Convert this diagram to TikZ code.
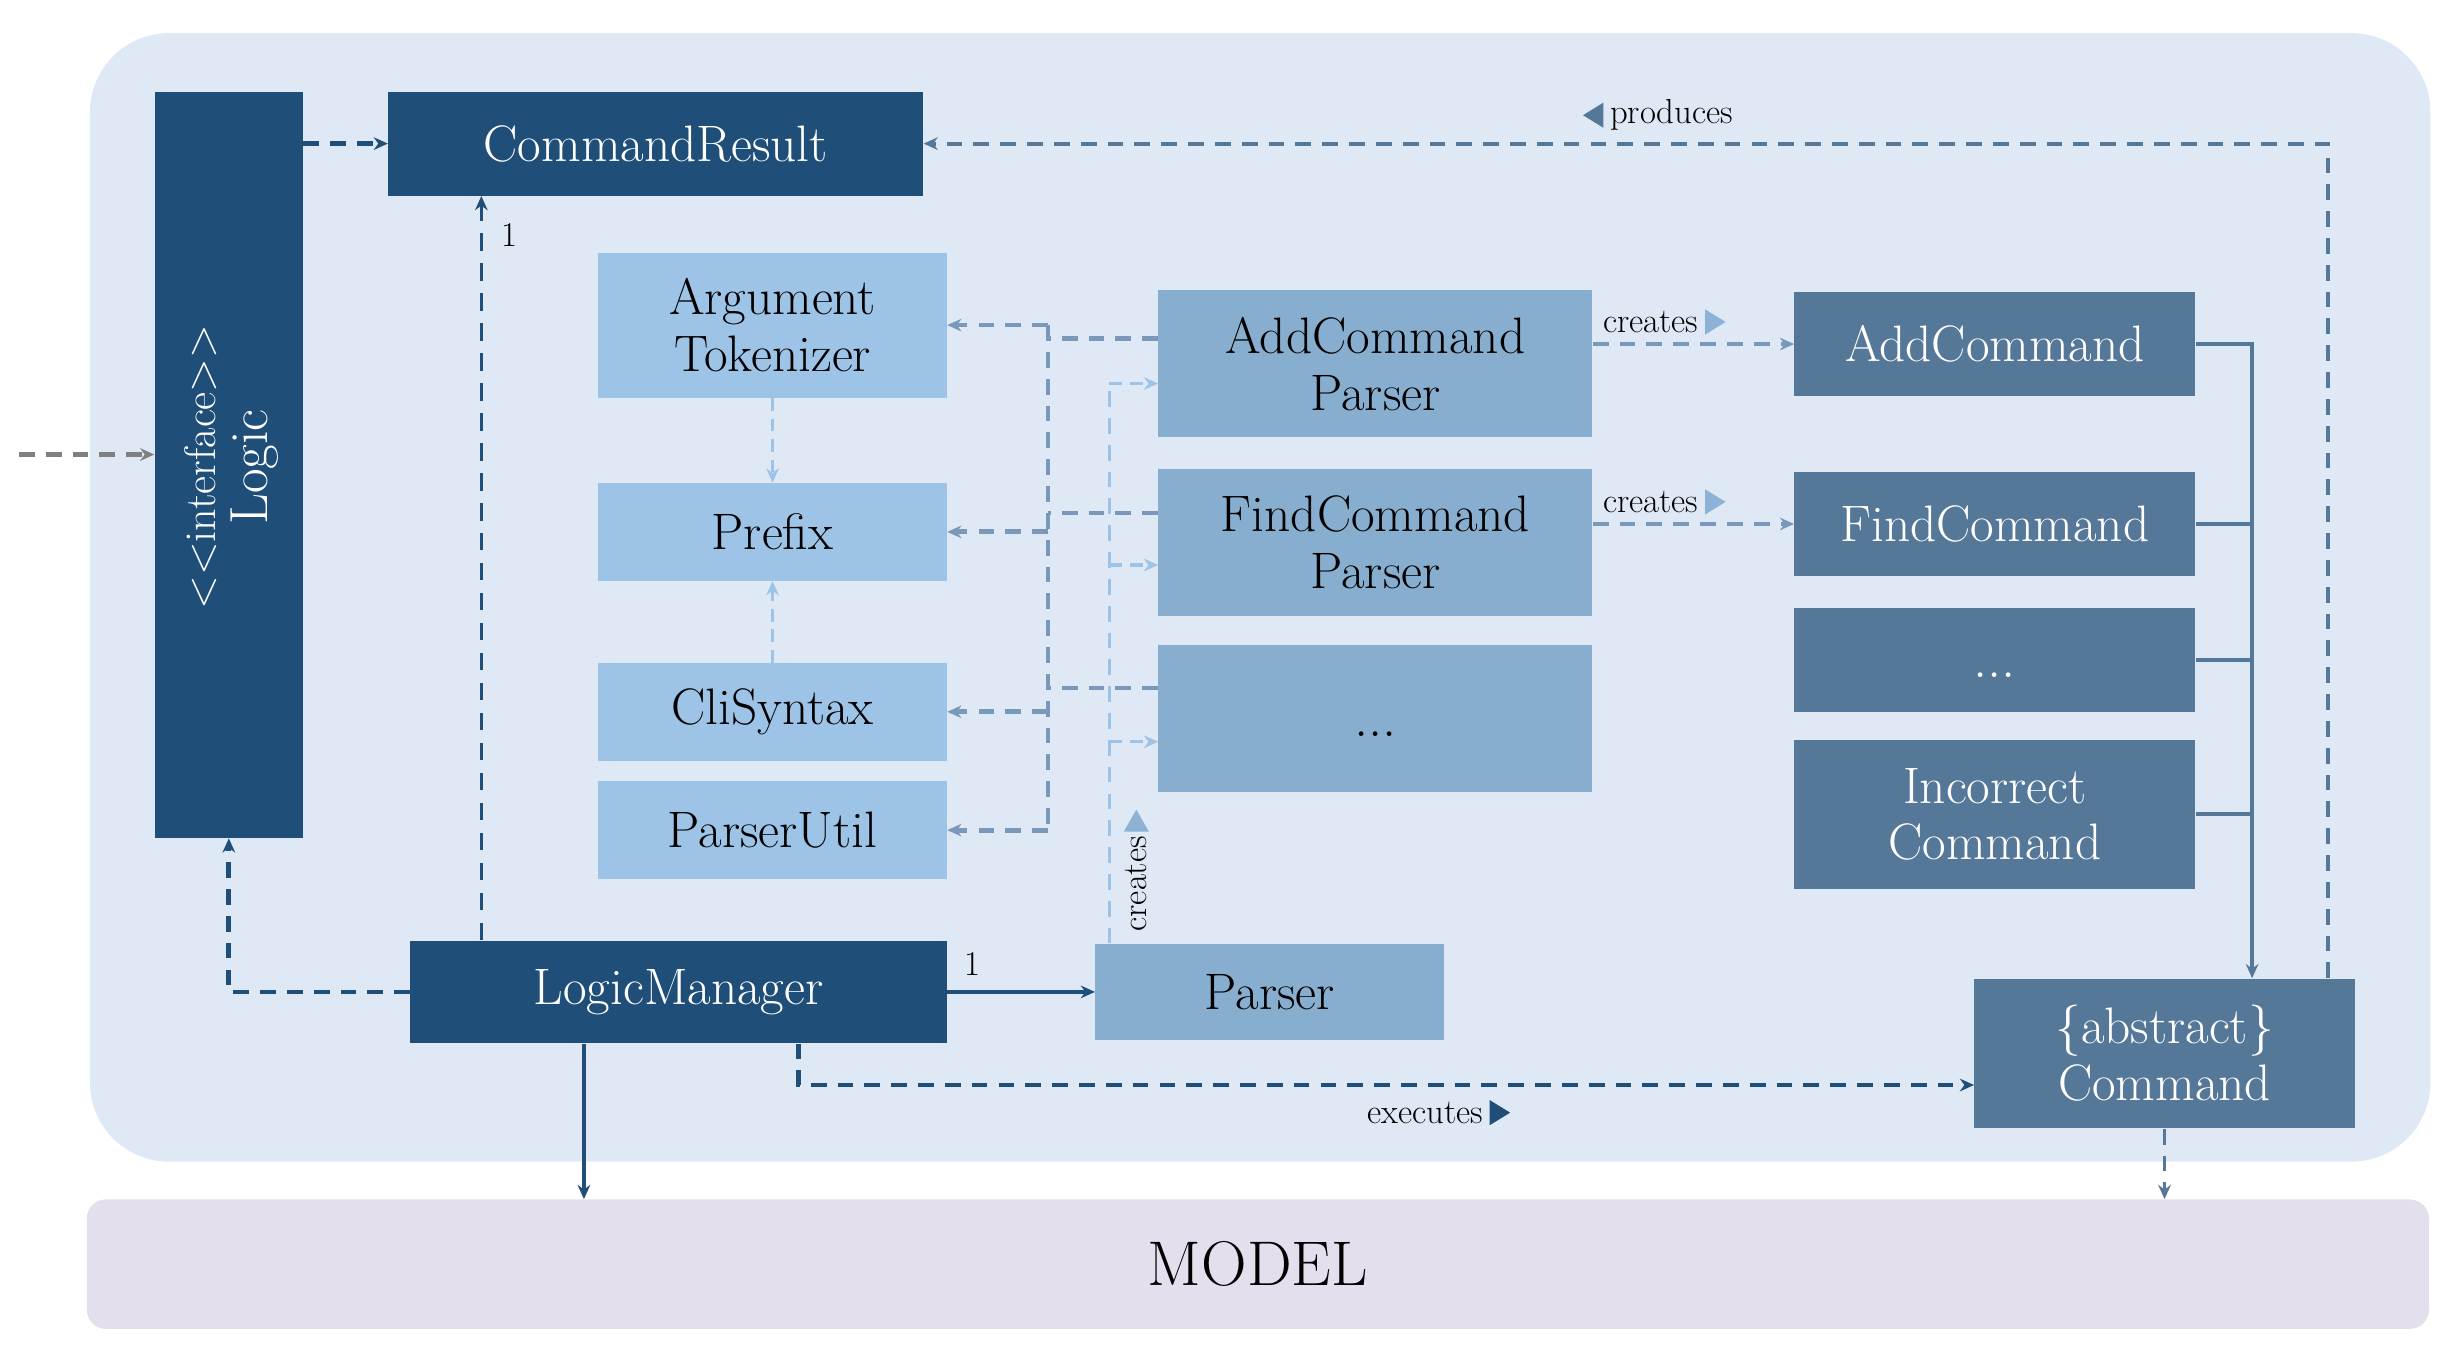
\documentclass[tikz,border=0pt]{standalone}
\usetikzlibrary{arrows.meta,positioning}
\definecolor{navy}{HTML}{1F4E79}
\definecolor{lightblue}{HTML}{9DC3E6}
\definecolor{midblue}{HTML}{87AECE}
\definecolor{steel}{HTML}{557899}
\definecolor{bgblue}{HTML}{DEE9F5}
\definecolor{modelbg}{HTML}{E4DFEC}
\definecolor{utilline}{HTML}{7A99BA}
\definecolor{tri}{HTML}{8CB3D5}
\begin{document}
\begin{tikzpicture}[x=1pt,y=-1pt,
    box/.style={rectangle, inner sep=0pt, align=center, font=\fontsize{32.5}{36}\selectfont},
    dark/.style={box, fill=navy, text=white},
    util/.style={box, fill=lightblue},
    prs/.style={box, fill=midblue},
    cmd/.style={box, fill=steel, text=white},
    lbl/.style={inner sep=0pt, font=\fontsize{22}{24}\selectfont},
    tip/.style={-{Stealth[length=9pt,width=8pt]}},
    thickdash/.style={line width=3pt, dash pattern=on 10pt off 7pt},
    thindash/.style={line width=2pt, dash pattern=on 11pt off 8pt}]
    \useasboundingbox (0,0) rectangle (1560,856.7);
    \fill[bgblue, rounded corners=50pt] (57,21) rectangle (1540,736);
    \node[fill=modelbg, rounded corners=12pt, minimum width=1484pt, minimum height=82pt,
        font=\fontsize{40}{44}\selectfont] (model) at (797,801) {MODEL};
    % classes
    \node[dark, minimum width=94pt, minimum height=473pt] (logic) at (145,294.5) {};
    \node[rotate=90, text=white, align=center, font=\fontsize{34}{33}\selectfont] (logicTxt) at (146.5,296)
        {{\fontsize{28}{33}\selectfont <\kern0pt<interface>\kern0pt>}\\Logic};
    \node[dark, minimum width=339pt, minimum height=66pt] (cmdResult) at (415.5,91) {CommandResult};
    \node[util, minimum width=221pt, minimum height=92pt] (argTok) at (489.5,206) {Argument\\Tokenizer};
    \node[util, minimum width=221pt, minimum height=62pt] (prefix) at (489.5,337) {Prefix};
    \node[util, minimum width=221pt, minimum height=62pt] (cliSyntax) at (489.5,451) {CliSyntax};
    \node[util, minimum width=221pt, minimum height=62pt] (parserUtil) at (489.5,526) {ParserUtil};
    \node[prs, minimum width=275pt, minimum height=93pt] (addParser) at (871.5,230.5) {AddCommand\\Parser};
    \node[prs, minimum width=275pt, minimum height=93pt] (findParser) at (871.5,343.5) {FindCommand\\Parser};
    \node[prs, minimum width=275pt, minimum height=93pt] (moreParser) at (871.5,455.5)
        {\strut\raisebox{-4pt}{\fontsize{36}{36}\selectfont...}};
    \node[cmd, minimum width=254pt, minimum height=66pt] (addCmd) at (1264,218) {AddCommand};
    \node[cmd, minimum width=254pt, minimum height=66pt] (findCmd) at (1264,332) {FindCommand};
    \node[cmd, minimum width=254pt, minimum height=66pt] (moreCmd) at (1264,418)
        {\strut\raisebox{-4pt}{\fontsize{36}{36}\selectfont...}};
    \node[cmd, minimum width=254pt, minimum height=94pt] (incorrectCmd) at (1264,516) {Incorrect\\Command};
    \node[cmd, minimum width=241pt, minimum height=95pt] (command) at (1371.5,667.5) {\{abstract\}\\Command};
    \node[dark, minimum width=340pt, minimum height=65pt] (logicMgr) at (430,628.5) {LogicManager};
    \node[prs, minimum width=221pt, minimum height=61pt] (parser) at (804.5,628.5) {Parser};
    % outside caller
    \coordinate (ext) at (12,288);
    \draw[gray, thickdash, tip] (ext) -- (ext -| logic.west);
    \draw[navy, thickdash, tip] (logic.east |- cmdResult.west) -- (cmdResult.west);
    % produces
    \draw[steel, line width=2.5pt, dash pattern=on 10pt off 7pt, tip]
        ([xshift=103.5pt]command.north) |- (cmdResult.east);
    \node[lbl, anchor=west] (prodLbl) at (1020,73) {produces};
    \fill[steel] ([xshift=-4pt]prodLbl.west) ++(0,-8) -- ++(0,16) -- ++(-13,-8) -- cycle;
    % logic manager
    \coordinate (lmUp) at ([xshift=-125pt]logicMgr.north);
    \draw[navy, thindash, tip] (lmUp) -- (lmUp |- cmdResult.south);
    \node[lbl] (oneA) at (323,149) {1};
    \draw[navy, thickdash, tip] (logicMgr.west) -| (logic.south);
    \draw[navy, line width=2.5pt, tip] (logicMgr.east) -- (parser.west);
    \node[lbl] (oneB) at (616,611) {1};
    \coordinate (lmDown) at ([xshift=-60pt]logicMgr.south);
    \draw[navy, line width=2pt, tip] (lmDown) -- (lmDown |- model.north);
    \draw[navy, thickdash, tip] ([xshift=76pt]logicMgr.south) |- ([yshift=-20pt]command.west);
    \node[lbl] (exLbl) at (903,705) {executes};
    \fill[navy] ([xshift=4pt]exLbl.east) ++(0,-8) -- ++(0,16) -- ++(13,-8) -- cycle;
    \draw[steel, line width=2pt, dash pattern=on 10pt off 7pt, tip] (command.south) -- (command.south |- model.north);
    % parser creates parsers
    \coordinate (pb) at ([xshift=-101.5pt]parser.north);
    \coordinate (inAdd) at ([yshift=-12.5pt]addParser.west);
    \coordinate (inFind) at ([yshift=-14.5pt]findParser.west);
    \coordinate (inMore) at ([yshift=-14.5pt]moreParser.west);
    \draw[lightblue, line width=2pt, dash pattern=on 10pt off 7pt] (pb) -- (pb |- inAdd);
    \foreach \c in {inAdd,inFind,inMore}
        \draw[lightblue, line width=2pt, dash pattern=on 8pt off 5pt, tip] (pb |- \c) -- (\c);
    \node[lbl, rotate=90] (crLbl) at (720,560) {creates};
    \fill[tri] (712,527) -- (728,527) -- (720,513) -- cycle;
    % parsers use utilities
    \coordinate (ub) at (664,0);
    \coordinate (outAdd) at ([yshift=16pt]addParser.west);
    \coordinate (outFind) at ([yshift=18.5pt]findParser.west);
    \coordinate (outMore) at ([yshift=19.5pt]moreParser.west);
    \draw[utilline, line width=2.5pt, dash pattern=on 10pt off 7pt] (ub |- argTok.east) -- (ub |- parserUtil.east);
    \foreach \c in {outAdd,outFind,outMore}
        \draw[utilline, thickdash] (\c) -- (ub |- \c);
    \foreach \t in {argTok,prefix,cliSyntax,parserUtil}
        \draw[utilline, thickdash, tip] (ub |- \t.east) -- (\t.east);
    \draw[lightblue, line width=1.5pt, dash pattern=on 8pt off 5pt, tip] (argTok.south) -- (prefix.north);
    \draw[lightblue, line width=1.5pt, dash pattern=on 8pt off 5pt, tip] (cliSyntax.north) -- (prefix.south);
    % parsers create commands
    \draw[utilline, thickdash, tip] (addParser.east |- addCmd.west) -- (addCmd.west);
    \draw[utilline, thickdash, tip] (findParser.east |- findCmd.west) -- (findCmd.west);
    \node[lbl] (crAdd) at (1046,204) {creates};
    \node[lbl] (crFind) at (1046,318) {creates};
    \fill[tri] ([xshift=4pt]crAdd.east) ++(0,-8) -- ++(0,16) -- ++(13,-8) -- cycle;
    \fill[tri] ([xshift=4pt]crFind.east) ++(0,-8) -- ++(0,16) -- ++(13,-8) -- cycle;
    % commands extend Command
    \coordinate (cb) at ([xshift=55.5pt]command.north);
    \draw[steel, line width=2.5pt, tip] (addCmd.east) -| (cb);
    \foreach \c in {findCmd,moreCmd,incorrectCmd}
        \draw[steel, line width=2.5pt] (\c.east) -- (\c.east -| cb);
\end{tikzpicture}
\end{document}
